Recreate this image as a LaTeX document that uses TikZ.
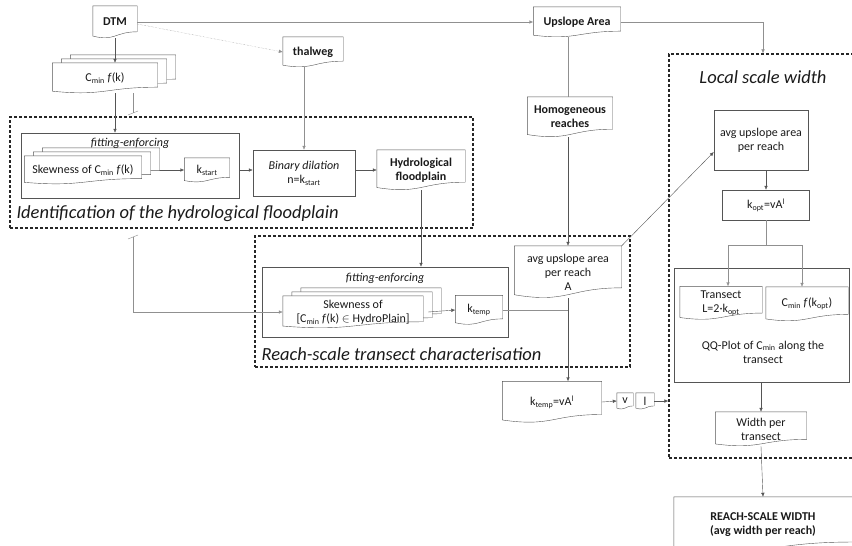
\documentclass[tikz,border=0pt]{standalone}
\usepackage{fontspec}
\setmainfont{Carlito}
\usetikzlibrary{positioning,calc,fit,arrows.meta}

\pgfdeclarelayer{bg}
\pgfsetlayers{bg,main}

\definecolor{boxline}{HTML}{555555}
\definecolor{softline}{HTML}{909090}
\definecolor{txt}{HTML}{1A1A1A}

\newcommand\docfont{\fontsize{12}{14}\selectfont}
\newcommand\groupfont{\fontsize{18.5}{22}\selectfont\itshape}

% document shape: flat top, wavy bottom
\newcommand\docoutline[3]{%
  \draw[boxline, fill=white]
    let \p1=([shift={(#2,#3)}]#1.north west), \p2=([shift={(#2,#3)}]#1.south east),
        \n1={\y1-\y2}, \n2={\x2-\x1} in
    (\x1,\y1) -- (\x2,\y1) -- (\x2,{\y2+0.198*\n1})
    .. controls ({\x1+0.5*\n2},{\y2+0.198*\n1}) and ({\x1+0.5*\n2},{\y2-0.107*\n1}) .. (\x1,{\y2+0.066*\n1}) -- cycle;}

\tikzset{
  sz/.style 2 args={minimum width=#1pt, minimum height=#2pt},
  doc/.style={align=center, inner sep=1pt, font=\docfont,
    append after command={\pgfextra{\let\LN\tikzlastnode
      \begin{pgfonlayer}{bg}\docoutline{\LN}{0pt}{0pt}\end{pgfonlayer}}}},
  stackdoc/.style={align=center, inner sep=1pt, font=\docfont,
    append after command={\pgfextra{\let\LN\tikzlastnode
      \begin{pgfonlayer}{bg}
        \docoutline{\LN}{18pt}{8pt}\docoutline{\LN}{9pt}{4pt}\docoutline{\LN}{0pt}{0pt}
      \end{pgfonlayer}}}},
}

\begin{document}
\begin{tikzpicture}[x=1pt,y=-1pt,
    every node/.style={text=txt},
    procbox/.style={draw=boxline, align=center, font=\docfont, inner sep=2pt},
    group/.style={draw=black!85, dashed, dash pattern=on 3pt off 2pt, line width=1.3pt, inner sep=0pt},
    grouplabel/.style={font=\groupfont, anchor=west},
    conn/.style={draw=boxline, -{Latex[length=4pt,width=3.5pt]}},
    soft/.style={draw=softline, -{Latex[length=4pt,width=3.5pt]}}]
  \useasboundingbox (0,0) rectangle (852,546);

  % inputs
  \node[doc, sz={44}{32}] (dtm) at (115,22) {\textbf{DTM}};
  \node[stackdoc, sz={105}{30}] (cmin) at (105,78) {C\textsubscript{min} \textit{f}(k)};
  \node[doc, sz={60}{30}] (thalweg) at (313,52) {\textbf{thalweg}};
  \node[doc, sz={87}{30}] (upslope) at (577,22) {\textbf{Upslope Area}};
  \node[doc, sz={85}{40}] (homog) at (570,117) {\textbf{Homogeneous}\\\textbf{reaches}};

  % identification of the hydrological floodplain
  \node[group, fit={(10,117) (473,228)}] (grp1) {};
  \node[procbox, sz={218}{65}] (fitbox1) at (130,165.5) {};
  \node[font=\docfont\itshape] (fitlab1) at (130,143) {fitting-enforcing};
  \node[stackdoc, sz={117}{28}] (skew1) at (83,170) {Skewness of C\textsubscript{min} \textit{f}(k)};
  \node[doc, sz={45}{24}] (kstart) at (207,170) {k\textsubscript{start}};
  \node[procbox, sz={102}{46}] (bindil) at (304,173) {\textit{Binary dilation}\\n=k\textsubscript{start}};
  \node[doc, sz={88}{40}] (hydro) at (421,170) {\textbf{Hydrological}\\\textbf{floodplain}};
  \node[grouplabel] (lab1) at (13,214) {Identification of the hydrological floodplain};

  % reach-scale transect characterisation
  \node[group, fit={(255,236) (630,367)}] (grp2) {};
  \node[procbox, sz={246}{70}] (fitbox2) at (385,302) {};
  \node[font=\docfont\itshape] (fitlab2) at (385,278) {fitting-enforcing};
  \node[stackdoc, sz={140}{32}] (skew2) at (353,312) {Skewness of\\{}[C\textsubscript{min} \textit{f}(k) $\in$ HydroPlain]};
  \node[doc, sz={47}{29}] (ktemp) at (479,310) {k\textsubscript{temp}};
  \node[doc, sz={107}{52}] (avgA) at (568,272) {avg upslope area\\per reach\\A};
  \node[grouplabel] (lab2) at (258,354) {Reach-scale transect characterisation};

  \node[doc, sz={99}{41}] (kva) at (552,402) {k\textsubscript{temp}=vA\textsuperscript{l}};
  \node[doc, sz={16}{16}] (v) at (625,401) {v};
  \node[doc, sz={18}{16}] (l) at (645,401) {l};

  % local scale width
  \node[group, fit={(669,54) (857,458)}] (grp3) {};
  \node[font=\groupfont] (lab3) at (763,77) {Local scale width};
  \node[procbox, sz={94}{60}] (avgL) at (761,140) {avg upslope area\\per reach};
  \node[procbox, sz={87}{30}] (kopt) at (766,205) {k\textsubscript{opt}=vA\textsuperscript{l}};
  \node[procbox, sz={175}{114}] (qq) at (761.5,325) {};
  \node[doc, sz={82}{33}] (transect) at (721,303) {Transect\\L=2·k\textsubscript{opt}};
  \node[doc, sz={82}{34}] (cminopt) at (807,304) {C\textsubscript{min} \textit{f}(k\textsubscript{opt})};
  \node[font=\docfont, align=center] (qqtext) at (763,352) {QQ-Plot of C\textsubscript{min} along the\\transect};
  \node[doc, sz={91}{34}] (width) at (761,429) {Width per\\transect};

  \node[doc, sz={178}{56}] (reach) at (763,525) {\textbf{REACH-SCALE WIDTH}\\\textbf{(avg width per reach)}};

  % connectors
  \draw[conn] (dtm.south) -- (dtm.south |- cmin.north);
  \draw[conn] (cmin.south -| dtm.south) -- (fitbox1.north -| dtm.south);
  \draw[soft] (dtm.east) -- (upslope.west);
  \draw[soft, densely dotted] ([yshift=-2pt]dtm.east) -- (thalweg.west);
  \draw[soft] (bindil.north |- thalweg.south) -- (bindil.north);
  \draw[conn] ([xshift=18pt]skew1.east) -- (kstart.west);
  \draw[conn] (fitbox1.east |- kstart.east) -- (bindil.west |- kstart.east);
  \draw[conn] (bindil.east |- hydro.west) -- (hydro.west);
  \draw[conn] (hydro.south) -- (hydro.south |- fitbox2.north);

  \coordinate (cut1) at (133,113);
  \coordinate (cut2) at (133,237);
  \draw[softline] (cmin.south -| cut1) -- (cut1);
  \draw[softline] ([shift={(-5pt,-2pt)}]cut1) -- ([shift={(5pt,2pt)}]cut1);
  \draw[softline] ([shift={(-5pt,-2pt)}]cut2) -- ([shift={(5pt,2pt)}]cut2);
  \draw[soft] (cut2) |- (skew2.west);

  \draw[conn] ([xshift=5pt]skew2.east) -- (ktemp.west);
  \draw[softline] (ktemp.east) -- (ktemp.east -| avgA.south);
  \draw[softline] (upslope.south -| avgA.south) -- (homog.north -| avgA.south);
  \draw[conn] (homog.south -| avgA.south) -- (avgA.north);
  \draw[conn] (avgA.south) -- (avgA.south |- kva.north);
  \draw[conn] (kva.east) -- (v.west);
  \draw[conn] (l.east) -- (l.east -| grp3.west);
  \draw[soft] (upslope.east) -| (grp3.north);
  \draw[conn] (avgA.north east) -- ([yshift=-12pt]avgL.west);

  \draw[conn] (kopt.north |- avgL.south) -- (kopt.north);
  \coordinate (split) at ([yshift=-25pt]kopt.south);
  \draw[softline] (kopt.south) -- (split);
  \draw[soft] (split) -| ([xshift=7pt]transect.north);
  \draw[soft] (split) -| ([xshift=-5pt]cminopt.north);
  \draw[conn] (qq.south -| width.north) -- (width.north);
  \draw[conn] (width.south) -- (reach.north);
\end{tikzpicture}
\end{document}
